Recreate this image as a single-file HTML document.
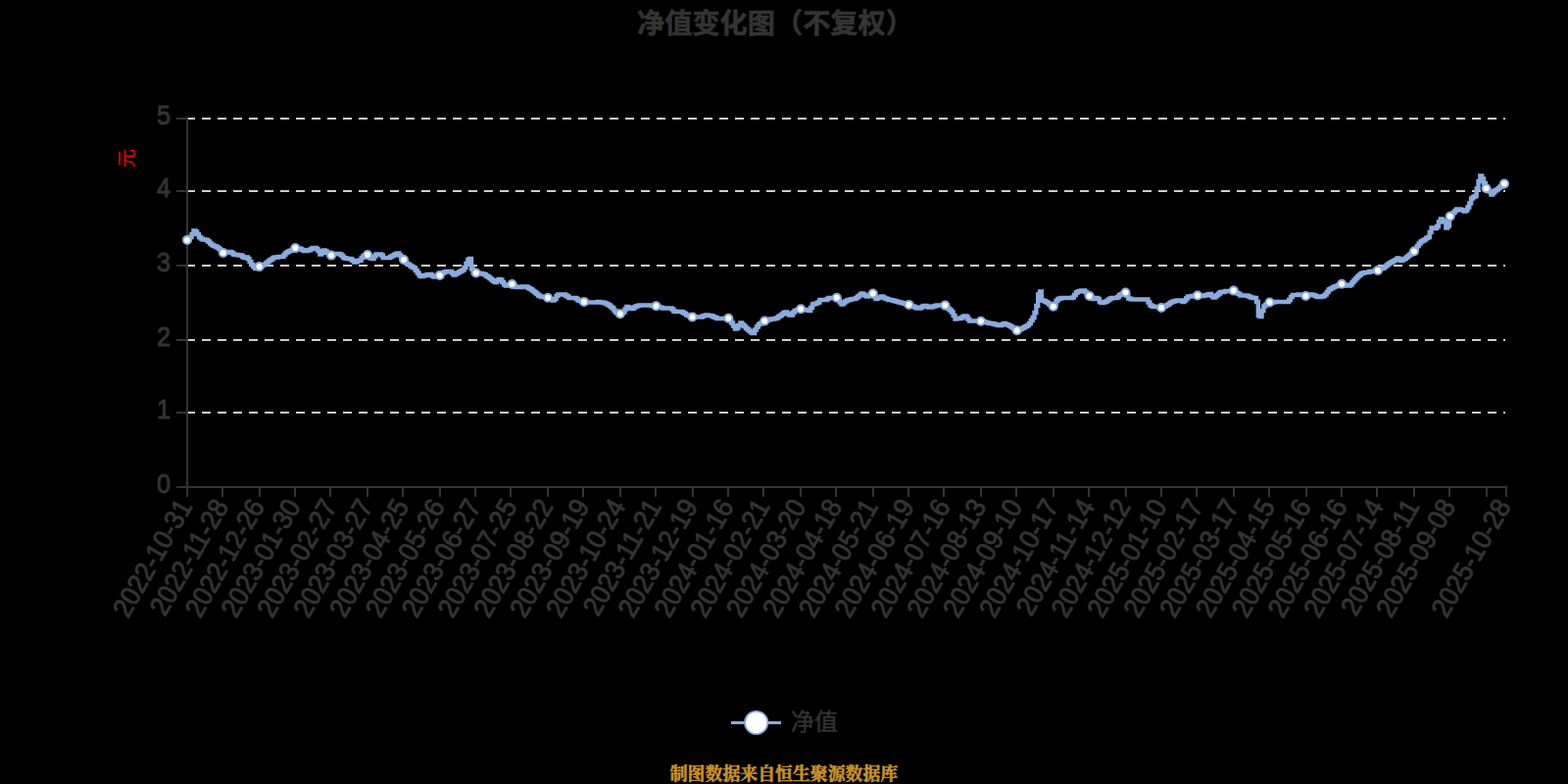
<!DOCTYPE html>
<html lang="zh-CN"><head><meta charset="utf-8"><title>净值变化图（不复权）</title>
<style>
html,body{margin:0;padding:0;background:#000;width:1600px;height:800px;overflow:hidden}
svg{display:block;position:absolute;left:0;top:0}
text{font-family:"Liberation Sans",sans-serif;fill:#333333;stroke:#333333;stroke-width:0.9px}
.sr{position:absolute;left:0;top:0;width:1px;height:1px;overflow:hidden;color:transparent;font-size:1px;opacity:0}
</style></head><body>
<svg width="1600" height="800" viewBox="0 0 1600 800">
<rect width="1600" height="800" fill="#000"/>
<text x="791" y="34" text-anchor="middle" font-size="28.2" style="font-family:'Liberation Sans','Noto Sans CJK SC',sans-serif;font-weight:bold;fill:#333333;stroke:#333333;stroke-width:0.6px">净值变化图（不复权）</text>
<g stroke="#cccccc" stroke-width="2" stroke-dasharray="9 7" fill="none" shape-rendering="crispEdges">
<line x1="190" y1="121" x2="1536" y2="121"/>
<line x1="190" y1="195" x2="1536" y2="195"/>
<line x1="190" y1="271" x2="1536" y2="271"/>
<line x1="190" y1="347" x2="1536" y2="347"/>
<line x1="190" y1="421" x2="1536" y2="421"/>
</g>
<g stroke="#333333" stroke-width="2" fill="none" shape-rendering="crispEdges">
<line x1="191" y1="119.4" x2="191" y2="498"/>
<line x1="190" y1="497" x2="1538" y2="497"/>
<line x1="180" y1="121" x2="191" y2="121"/>
<line x1="180" y1="195" x2="191" y2="195"/>
<line x1="180" y1="271" x2="191" y2="271"/>
<line x1="180" y1="347" x2="191" y2="347"/>
<line x1="180" y1="421" x2="191" y2="421"/>
<line x1="180" y1="497" x2="191" y2="497"/>
<line x1="191" y1="497" x2="191" y2="507"/>
<line x1="227" y1="497" x2="227" y2="507"/>
<line x1="265" y1="497" x2="265" y2="507"/>
<line x1="301" y1="497" x2="301" y2="507"/>
<line x1="337" y1="497" x2="337" y2="507"/>
<line x1="375" y1="497" x2="375" y2="507"/>
<line x1="411" y1="497" x2="411" y2="507"/>
<line x1="449" y1="497" x2="449" y2="507"/>
<line x1="485" y1="497" x2="485" y2="507"/>
<line x1="521" y1="497" x2="521" y2="507"/>
<line x1="559" y1="497" x2="559" y2="507"/>
<line x1="595" y1="497" x2="595" y2="507"/>
<line x1="633" y1="497" x2="633" y2="507"/>
<line x1="669" y1="497" x2="669" y2="507"/>
<line x1="707" y1="497" x2="707" y2="507"/>
<line x1="743" y1="497" x2="743" y2="507"/>
<line x1="779" y1="497" x2="779" y2="507"/>
<line x1="817" y1="497" x2="817" y2="507"/>
<line x1="853" y1="497" x2="853" y2="507"/>
<line x1="891" y1="497" x2="891" y2="507"/>
<line x1="927" y1="497" x2="927" y2="507"/>
<line x1="963" y1="497" x2="963" y2="507"/>
<line x1="1001" y1="497" x2="1001" y2="507"/>
<line x1="1037" y1="497" x2="1037" y2="507"/>
<line x1="1075" y1="497" x2="1075" y2="507"/>
<line x1="1111" y1="497" x2="1111" y2="507"/>
<line x1="1149" y1="497" x2="1149" y2="507"/>
<line x1="1185" y1="497" x2="1185" y2="507"/>
<line x1="1221" y1="497" x2="1221" y2="507"/>
<line x1="1259" y1="497" x2="1259" y2="507"/>
<line x1="1295" y1="497" x2="1295" y2="507"/>
<line x1="1333" y1="497" x2="1333" y2="507"/>
<line x1="1369" y1="497" x2="1369" y2="507"/>
<line x1="1405" y1="497" x2="1405" y2="507"/>
<line x1="1443" y1="497" x2="1443" y2="507"/>
<line x1="1479" y1="497" x2="1479" y2="507"/>
<line x1="1517" y1="497" x2="1517" y2="507"/>
<line x1="1537" y1="497" x2="1537" y2="507"/>
</g>
<g font-size="27.4" text-anchor="end">
<text transform="translate(174,127) scale(0.92,1)">5</text>
<text transform="translate(174,201) scale(0.92,1)">4</text>
<text transform="translate(174,277) scale(0.92,1)">3</text>
<text transform="translate(174,353) scale(0.92,1)">2</text>
<text transform="translate(174,427) scale(0.92,1)">1</text>
<text transform="translate(174,503) scale(0.92,1)">0</text>
</g>
<g font-size="28" text-anchor="end">
<text transform="translate(191,513) rotate(-60) scale(0.93,1)" x="0" y="7">2022-10-31</text>
<text transform="translate(227.83,513) rotate(-60) scale(0.93,1)" x="0" y="7">2022-11-28</text>
<text transform="translate(264.65,513) rotate(-60) scale(0.93,1)" x="0" y="7">2022-12-26</text>
<text transform="translate(301.48,513) rotate(-60) scale(0.93,1)" x="0" y="7">2023-01-30</text>
<text transform="translate(338.31,513) rotate(-60) scale(0.93,1)" x="0" y="7">2023-02-27</text>
<text transform="translate(375.14,513) rotate(-60) scale(0.93,1)" x="0" y="7">2023-03-27</text>
<text transform="translate(411.96,513) rotate(-60) scale(0.93,1)" x="0" y="7">2023-04-25</text>
<text transform="translate(448.79,513) rotate(-60) scale(0.93,1)" x="0" y="7">2023-05-26</text>
<text transform="translate(485.62,513) rotate(-60) scale(0.93,1)" x="0" y="7">2023-06-27</text>
<text transform="translate(522.45,513) rotate(-60) scale(0.93,1)" x="0" y="7">2023-07-25</text>
<text transform="translate(559.27,513) rotate(-60) scale(0.93,1)" x="0" y="7">2023-08-22</text>
<text transform="translate(596.1,513) rotate(-60) scale(0.93,1)" x="0" y="7">2023-09-19</text>
<text transform="translate(632.93,513) rotate(-60) scale(0.93,1)" x="0" y="7">2023-10-24</text>
<text transform="translate(669.76,513) rotate(-60) scale(0.93,1)" x="0" y="7">2023-11-21</text>
<text transform="translate(706.58,513) rotate(-60) scale(0.93,1)" x="0" y="7">2023-12-19</text>
<text transform="translate(743.41,513) rotate(-60) scale(0.93,1)" x="0" y="7">2024-01-16</text>
<text transform="translate(780.24,513) rotate(-60) scale(0.93,1)" x="0" y="7">2024-02-21</text>
<text transform="translate(817.07,513) rotate(-60) scale(0.93,1)" x="0" y="7">2024-03-20</text>
<text transform="translate(853.89,513) rotate(-60) scale(0.93,1)" x="0" y="7">2024-04-18</text>
<text transform="translate(890.72,513) rotate(-60) scale(0.93,1)" x="0" y="7">2024-05-21</text>
<text transform="translate(927.55,513) rotate(-60) scale(0.93,1)" x="0" y="7">2024-06-19</text>
<text transform="translate(964.38,513) rotate(-60) scale(0.93,1)" x="0" y="7">2024-07-16</text>
<text transform="translate(1001.2,513) rotate(-60) scale(0.93,1)" x="0" y="7">2024-08-13</text>
<text transform="translate(1038.03,513) rotate(-60) scale(0.93,1)" x="0" y="7">2024-09-10</text>
<text transform="translate(1074.86,513) rotate(-60) scale(0.93,1)" x="0" y="7">2024-10-17</text>
<text transform="translate(1111.68,513) rotate(-60) scale(0.93,1)" x="0" y="7">2024-11-14</text>
<text transform="translate(1148.51,513) rotate(-60) scale(0.93,1)" x="0" y="7">2024-12-12</text>
<text transform="translate(1185.34,513) rotate(-60) scale(0.93,1)" x="0" y="7">2025-01-10</text>
<text transform="translate(1222.17,513) rotate(-60) scale(0.93,1)" x="0" y="7">2025-02-17</text>
<text transform="translate(1258.99,513) rotate(-60) scale(0.93,1)" x="0" y="7">2025-03-17</text>
<text transform="translate(1295.82,513) rotate(-60) scale(0.93,1)" x="0" y="7">2025-04-15</text>
<text transform="translate(1332.65,513) rotate(-60) scale(0.93,1)" x="0" y="7">2025-05-16</text>
<text transform="translate(1369.48,513) rotate(-60) scale(0.93,1)" x="0" y="7">2025-06-16</text>
<text transform="translate(1406.3,513) rotate(-60) scale(0.93,1)" x="0" y="7">2025-07-14</text>
<text transform="translate(1443.13,513) rotate(-60) scale(0.93,1)" x="0" y="7">2025-08-11</text>
<text transform="translate(1479.96,513) rotate(-60) scale(0.93,1)" x="0" y="7">2025-09-08</text>
<text transform="translate(1536.5,513) rotate(-60) scale(0.93,1)" x="0" y="7">2025-10-28</text>
</g>
<text transform="translate(129,161.5) rotate(-90)" x="0" y="7" text-anchor="middle" font-size="19" style="font-family:'Liberation Sans','Noto Sans CJK SC',sans-serif;fill:#ff0000;stroke:none">元</text>
<path fill="none" stroke="#8cabdc" stroke-width="4.4" stroke-linejoin="miter" stroke-linecap="butt" d="M191,245H191.92V243.5H193.76V242H195.6V239H197.44V235.5H199.29V236.5H201.13V239H202.97V242H204.81V243.5H206.65V244.5H210.33V245H212.18V246.5H214.02V248.5H215.86V250H217.7V251H219.54V251.5H221.38V252.5H223.22V254H225.07V256H226.91V258H228.75V257.5H232.43V257H236.11V258H237.95V259.5H239.8V260H243.48V260.5H247.16V262H249V263H250.84V262.5H252.69V264H254.53V267H256.37V270H258.21V272H260.05V274H261.89V273H263.73V272H265.58V271.5H267.42V270.5H269.26V270H271.1V268.5H272.94V267H274.78V265.5H276.62V264.5H278.47V263H280.31V262.5H283.99V262H289.51V260H291.35V258H293.2V257H295.04V256H296.88V255.5H298.72V254H300.56V253H302.4V253.5H306.09V254H307.93V255H309.77V256H313.45V255.5H315.29V255H317.13V254H318.98V253H322.66V254H324.5V256H326.34V259.5H328.18V258H330.02V255.5H331.86V256.5H333.71V258H335.55V259.5H337.39V260.5H339.23V259.5H341.07V259H346.6V259.5H348.44V261H350.28V263H352.12V263.5H353.96V264H357.64V264.5H359.49V266H361.33V267.5H363.17V267H365.01V266H366.85V265.5H368.69V263H370.53V261H372.37V260.5H374.22V260H376.06V262H377.9V263.5H379.74V264H381.58V261.5H383.42V259.5H388.95V260.5H390.79V263H398.15V262H400V261H401.84V260H403.68V259H405.52V258.5H407.36V260.5H409.2V262.5H411.04V265H412.89V267H414.73V269H416.57V270H418.41V271.5H420.25V272.5H422.09V273.5H423.93V276H425.77V278.5H427.62V281H429.46V282H431.3V281.5H433.14V281H434.98V280.5H436.82V280H440.51V281.5H442.35V282.5H444.19V282H446.03V281.5H447.87V281H449.71V279.5H451.55V278.5H453.4V277.5H455.24V277H460.76V278.5H462.6V280.5H464.44V279.5H466.28V278.5H468.13V277.5H469.97V276.5H471.81V275.5H473.65V273H475.49V269H477.33V265H479.17V264H481.02V274.5H482.86V278.5H488.38V279H492.06V279.5H493.91V280H495.75V281.5H497.59V282.5H499.43V284H501.27V285.5H503.11V287H504.95V288H506.79V286.5H508.64V285H510.48V285.5H512.32V288H514.16V290.5H516V291.5H517.84V291H519.68V290.5H521.53V290H523.37V291.5H525.21V292.5H527.05V293H532.57V292.5H538.1V293.5H539.94V294.5H541.78V295.5H543.62V297H545.46V298.5H547.31V300H549.15V301.5H550.99V302.5H552.83V303H556.51V303.5H558.35V304H560.19V305H562.04V305.5H563.88V306.5H565.72V305H567.56V302H569.4V300.5H576.77V301.5H578.61V302.5H580.45V304H587.82V305H589.66V306.5H591.5V307H593.34V307.5H595.18V308H598.86V308.5H609.91V308H611.75V308.5H615.44V309H617.28V309.5H619.12V310.5H620.96V311.5H622.8V313H624.64V314.5H626.48V317H628.33V319H630.17V320H633.85V319H635.69V318.5H637.53V315.5H639.37V313H641.21V314H643.06V314.5H644.9V315H646.74V313.5H648.58V312.5H650.42V312H652.26V311.5H665.15V312H668.84V312.5H670.68V313H672.52V313.5H674.36V314H676.2V314.5H685.41V315.5H687.25V317.5H689.09V318H696.46V319H698.3V320H700.14V321.5H701.98V322H703.82V323H705.66V323.5H716.71V322.5H718.55V322H720.39V321.5H722.24V322H725.92V322.5H727.76V323.5H729.6V324H731.44V325H744.33V327H746.17V329.5H748.01V332.5H749.86V335.5H751.7V334.5H753.54V332H755.38V329.5H757.22V331.5H759.06V333H760.9V335H762.75V336.5H764.59V338H766.43V339.5H768.27V340H770.11V336.5H771.95V333.5H773.79V331H775.63V330H777.48V329H779.32V327.5H781.16V327H783V326.5H784.84V326H786.68V325.5H790.37V325H792.21V324.5H794.05V323H795.89V322H797.73V320.5H799.57V319H801.41V318.5H803.26V320H805.1V321.5H808.78V319H810.62V317H812.46V316.5H814.3V316H816.15V315.5H819.83V316H823.51V316.5H825.35V317H827.19V314H829.03V310.5H830.88V310H832.72V309.5H834.56V308.5H836.4V306H843.77V305H845.61V304H854.81V306H856.66V308.5H858.5V310.5H860.34V309H862.18V307.5H864.02V306.5H865.86V306H867.7V305.5H869.54V305H873.23V304H875.07V302.5H876.91V301H878.75V299.5H880.59V300.5H882.43V301.5H884.28V302.5H886.12V301.5H887.96V300.5H889.8V299.5H891.64V302.5H893.48V305H895.32V304H897.17V303.5H899.01V302.5H900.85V303.5H902.69V304.5H904.53V305H906.37V306H910.05V306.5H911.9V307H913.74V307.5H915.58V308H917.42V308.5H919.26V309H921.1V309.5H922.94V310H924.79V310.5H926.63V311H928.47V311.5H930.31V312.5H932.15V313H933.99V314H935.83V314.5H939.52V313.5H941.36V312.5H943.2V312H945.04V312.5H946.88V313.5H950.57V313H952.41V312.5H954.25V312H956.09V311.5H965.3V313H967.14V315H968.98V316.5H970.82V318.5H972.66V322H974.5V325.5H976.34V325H980.03V324.5H981.87V323.5H983.71V322.5H985.55V323H987.39V325.5H989.23V327.5H1000.28V328H1003.96V328.5H1005.81V329H1007.65V329.5H1009.49V330H1013.17V330.5H1015.01V331H1016.85V331.5H1018.7V332H1022.38V331H1024.22V330H1026.06V331H1027.9V331.5H1029.74V332.5H1031.59V333.5H1033.43V335H1035.27V336H1037.11V337H1038.95V336.5H1040.79V336H1042.63V335H1044.47V334H1046.32V333H1048.16V332H1050V330H1051.84V327H1053.68V324H1055.52V319H1057.36V312H1059.21V300.5H1061.05V297.5H1062.89V306.5H1064.73V307H1066.57V308H1068.41V309H1070.25V310.5H1072.1V311.5H1073.94V312.5H1075.78V310H1077.62V307H1079.46V305H1081.3V304.5H1083.14V304H1094.19V303.5H1096.03V301H1097.87V298.5H1099.72V297.5H1101.56V297H1103.4V296.5H1107.08V298H1108.92V300H1110.76V302H1112.61V303.5H1114.45V305H1118.13V304H1119.97V305H1121.81V308H1123.65V309H1125.5V308.5H1127.34V308H1129.18V307H1131.02V305.5H1132.86V304.5H1134.7V304H1140.23V303H1142.07V301H1143.91V300H1145.75V299.5H1147.59V298.5H1149.43V301.5H1151.27V304.5H1153.12V305H1154.96V305.5H1171.53V308.5H1173.37V311.5H1175.21V312.5H1177.05V313H1182.58V313.5H1184.42V314H1186.26V313H1188.1V312.5H1189.94V311.5H1191.78V310.5H1193.63V309H1195.47V308H1197.31V307.5H1199.15V307H1200.99V306.5H1204.67V307H1206.52V308H1208.36V306.5H1210.2V304.5H1212.04V302.5H1215.72V302H1219.41V301.5H1226.77V302H1228.61V301.5H1230.45V301H1232.29V300.5H1234.14V300H1235.98V302H1237.82V303.5H1239.66V302.5H1241.5V301H1243.34V299.5H1245.18V298H1248.87V297.5H1250.71V297H1256.23V296.5H1258.07V297H1259.92V298H1261.76V299H1263.6V300H1265.44V301.5H1272.8V302H1274.65V303H1276.49V303.5H1278.33V304H1282.01V308H1283.85V322H1285.69V323H1287.54V317H1289.38V312.5H1291.22V311H1293.06V309.5H1294.9V308.5H1300.43V308H1315.16V306H1317V303H1318.84V301H1324.36V300.5H1326.2V301H1329.89V301.5H1331.73V302H1333.57V301.5H1335.41V301H1337.25V300.5H1339.09V301H1340.94V301.5H1342.78V302.5H1344.62V303H1348.3V302.5H1350.14V302H1351.98V300.5H1353.83V298H1355.67V295.5H1357.51V294.5H1359.35V293.5H1361.19V292.5H1363.03V292H1364.87V291H1366.71V290.5H1368.56V290H1370.4V290.5H1372.24V291H1374.08V291.5H1377.76V290.5H1379.6V288H1381.45V286H1383.29V284H1385.13V282H1386.97V280.5H1388.81V279H1390.65V278.5H1392.49V278H1396.18V277.5H1398.02V277H1401.7V276.5H1403.54V276H1407.22V275H1409.07V274H1410.91V273.5H1412.75V272H1414.59V270.5H1416.43V269H1418.27V268H1420.11V267H1421.96V266H1423.8V265H1425.64V263.5H1427.48V264.5H1429.32V266H1431.16V265H1433V264H1434.85V262.5H1436.69V261H1438.53V259.5H1440.37V258H1442.21V256H1444.05V253.5H1445.89V251H1447.73V248.5H1449.58V246.5H1451.42V245.5H1453.26V244.5H1455.1V243H1456.94V242H1458.78V237H1460.62V232.5H1462.47V233H1466.15V231H1467.99V226.5H1469.83V223.5H1471.67V225H1473.51V226.5H1475.36V232.5H1477.2V230.5H1479.04V220.5H1480.88V218.5H1482.72V217H1484.56V215H1486.4V213.5H1490.09V214H1491.93V214.5H1493.77V215.5H1495.61V214.5H1497.45V211.5H1499.29V207.5H1501.13V202.5H1502.98V201H1504.82V200H1506.66V192.5H1508.5V185H1510.34V179.5H1512.18V182.5H1514.02V187H1515.87V192.5H1517.71V194H1519.55V195.5H1521.39V198.5H1523.23V196.5H1525.07V194.5H1526.91V193.5H1528.76V192H1530.6V190.5H1532.44V189H1534.28V187.5H1535.2"/>
<g fill="#fff" stroke="#8cabdc" stroke-width="2">
<circle cx="191" cy="244.9" r="4"/>
<circle cx="227.8" cy="258" r="4"/>
<circle cx="264.6" cy="272.1" r="4"/>
<circle cx="301.4" cy="253.1" r="4"/>
<circle cx="338.1" cy="260.6" r="4"/>
<circle cx="375" cy="260" r="4"/>
<circle cx="412" cy="265" r="4"/>
<circle cx="448.75" cy="280.9" r="4"/>
<circle cx="485.75" cy="278.5" r="4"/>
<circle cx="522.5" cy="290" r="4"/>
<circle cx="559" cy="303.75" r="4"/>
<circle cx="596" cy="307.9" r="4"/>
<circle cx="632.9" cy="320.25" r="4"/>
<circle cx="669.5" cy="312.25" r="4"/>
<circle cx="706.5" cy="323.4" r="4"/>
<circle cx="743.25" cy="324.75" r="4"/>
<circle cx="780.25" cy="327.5" r="4"/>
<circle cx="817.1" cy="315.25" r="4"/>
<circle cx="853.75" cy="303.75" r="4"/>
<circle cx="890.75" cy="299.6" r="4"/>
<circle cx="927.5" cy="310.9" r="4"/>
<circle cx="964.4" cy="311.6" r="4"/>
<circle cx="1000.9" cy="327.75" r="4"/>
<circle cx="1037.75" cy="337.25" r="4"/>
<circle cx="1074.75" cy="312.75" r="4"/>
<circle cx="1111.6" cy="301.9" r="4"/>
<circle cx="1148.5" cy="298.5" r="4"/>
<circle cx="1185.1" cy="314" r="4"/>
<circle cx="1222" cy="301.5" r="4"/>
<circle cx="1258.75" cy="296.6" r="4"/>
<circle cx="1295.6" cy="308.5" r="4"/>
<circle cx="1332.4" cy="302" r="4"/>
<circle cx="1369.1" cy="289.75" r="4"/>
<circle cx="1406" cy="275.9" r="4"/>
<circle cx="1442.9" cy="256.5" r="4"/>
<circle cx="1479.7" cy="220.8" r="4"/>
<circle cx="1516.5" cy="192.2" r="4"/>
<circle cx="1535" cy="187.5" r="4"/>
</g>
<rect x="746" y="736" width="51" height="3" fill="#8cabdc"/>
<circle cx="771.7" cy="737.4" r="11.6" fill="#fff" stroke="#8cabdc" stroke-width="1.8"/>
<text x="807" y="745" font-size="24" style="font-family:'Liberation Sans','Noto Sans CJK SC',sans-serif;fill:#333333;stroke:#333333;stroke-width:0.45px">净值</text>
<text x="800" y="796" text-anchor="middle" font-size="17.9" style="font-family:'Liberation Serif','Noto Serif CJK SC',serif;font-weight:bold;fill:#c8922c;stroke:#c8922c;stroke-width:0.55px">制图数据来自恒生聚源数据库</text>
</svg>
<div class="sr">净值变化图（不复权） 元 净值 制图数据来自恒生聚源数据库</div>
</body></html>
